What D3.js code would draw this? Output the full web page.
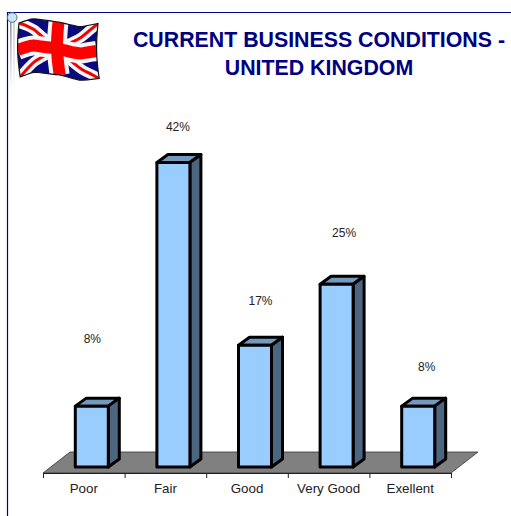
<!DOCTYPE html>
<html><head><meta charset="utf-8">
<script src="https://cdn.jsdelivr.net/npm/d3@7"></script>
<style>html,body{margin:0;padding:0;background:#fff;overflow:hidden}svg{display:block}</style>
</head><body><svg id="c" width="511" height="516"></svg>
<script>
const categories = ["Poor","Fair","Good","Very Good","Exellent"];
const values = [8.33,41.67,16.67,25,8.33];
const valueLabels = ["8%","42%","17%","25%","8%"];
const titleLines = ["CURRENT BUSINESS CONDITIONS -","UNITED KINGDOM"];

const labelLift = [67,36,44,51,39];
const labelShift = [0,4,5,7,8];
const svg = d3.select("#c");
const defs = svg.append("defs");

// frame
svg.append("path").attr("d","M7.5 516V12.5H511").attr("fill","none").attr("stroke","#000090").attr("stroke-width",1.2);

// pole
const pg = defs.append("linearGradient").attr("id","pole").attr("gradientUnits","userSpaceOnUse").attr("x1",0).attr("x2",0).attr("y1",22).attr("y2",90);
pg.append("stop").attr("offset",0).attr("stop-color","#8c949c");
pg.append("stop").attr("offset",1).attr("stop-color","#fff");
svg.append("rect").attr("x",10).attr("y",22).attr("width",1.6).attr("height",68).attr("fill","url(#pole)");
svg.append("rect").attr("x",13.4).attr("y",22).attr("width",1.2).attr("height",68).attr("fill","url(#pole)").attr("opacity",.7);
svg.append("circle").attr("cx",12.2).attr("cy",17.5).attr("r",4.8).attr("fill","#c8e8f6").attr("stroke","#55708a").attr("stroke-width",1);

// flag: warp unit square on to wavy cloth
const topEdge = d3.scaleLinear().domain([0,.17,.5,.77,1]).range([23,18.5,22,27,23.5]);
const botEdge = d3.scaleLinear().domain([0,.17,.5,.77,1]).range([77,72,75,80.5,78.5]);
const warp = (u,v)=>{
  const bulge = Math.sin(v*Math.PI)*-2;
  return [19+bulge+u*79+v*1.2, topEdge(u)*(1-v)+botEdge(u)*v];
};
const fl = d3.line().curve(d3.curveCatmullRom);
const seg = (u0,v0,u1,v1)=>fl(d3.range(0,1.0001,.1).map(t=>warp(u0+(u1-u0)*t,v0+(v1-v0)*t)));
const outline = [];
d3.range(0,1.001,.05).forEach(t=>outline.push(warp(t,0)));
d3.range(0,1.001,.1).forEach(t=>outline.push(warp(1,t)));
d3.range(1,-.001,-.05).forEach(t=>outline.push(warp(t,1)));
d3.range(1,-.001,-.1).forEach(t=>outline.push(warp(0,t)));
const outlineD = d3.line().curve(d3.curveLinearClosed)(outline);
defs.append("clipPath").attr("id","fc").append("path").attr("d",outlineD);
const f = svg.append("g").attr("clip-path","url(#fc)");
f.append("path").attr("d",outlineD).attr("fill","#0a0a80");
[[0,0,1,1],[0,1,1,0]].forEach(s=>f.append("path").attr("d",seg(...s)).attr("fill","none").attr("stroke","#f6f6f6").attr("stroke-width",10));
[[0,0,1,1],[0,1,1,0]].forEach(s=>f.append("path").attr("d",seg(...s)).attr("fill","none").attr("stroke","#f40000").attr("stroke-width",3));
[[.5,0,.5,1],[0,.5,1,.5]].forEach(s=>f.append("path").attr("d",seg(...s)).attr("fill","none").attr("stroke","#f6f6f6").attr("stroke-width",20));
[[.5,0,.5,1],[0,.5,1,.5]].forEach(s=>f.append("path").attr("d",seg(...s)).attr("fill","none").attr("stroke","#ff0000").attr("stroke-width",12));
svg.append("path").attr("d",outlineD).attr("fill","none").attr("stroke","#111").attr("stroke-width",1.2);

// title
svg.append("g").selectAll("text").data(titleLines).join("text")
  .attr("x",319).attr("y",(d,i)=>47+i*28).attr("text-anchor","middle")
  .attr("font-family","'Liberation Sans',Arial,sans-serif").attr("font-weight","bold")
  .attr("font-size",21.33).attr("fill","#000080").text(d=>d);

// scales
const left=43,right=451,base=473,barBase=467,dx=11,dy=8,barW=33;
const x = d3.scaleBand().domain(categories).range([left,right]).paddingInner(0).paddingOuter(0);
const y = d3.scaleLinear().domain([0,41.67]).range([barBase,162.5]);
const barX = c=>x(c)+x.bandwidth()/2-barW/2+8;

// floor
svg.append("path").attr("d",`M${left} ${base}L${left+27} 452H${right+27}L${right} ${base}Z`)
  .attr("fill","#808080").attr("stroke","#333").attr("stroke-width",.8);

// axis
const ag = svg.append("g").attr("transform",`translate(0,${base})`)
  .call(d3.axisBottom(x).tickSize(0).tickPadding(11));
ag.select(".domain").attr("stroke","#222").attr("stroke-width",1);
ag.selectAll("text").attr("font-family","'Liberation Sans',Arial,sans-serif").attr("font-size",13.33).attr("fill","#222");
ag.selectAll("line.edge").data(d3.range(categories.length+1)).join("line").attr("class","edge")
  .attr("x1",i=>left+i*x.step()+.5).attr("x2",i=>left+i*x.step()+.5).attr("y1",0).attr("y2",5)
  .attr("stroke","#222").attr("stroke-width",1);

// bars
const bars = svg.append("g").selectAll("g").data(categories).join("g");
const sw=3;
bars.append("path").attr("d",(c,i)=>{const X=barX(c),T=y(values[i]);return `M${X} ${T}l${dx} ${-dy}h${barW}l${-dx} ${dy}Z`;})
  .attr("fill","#7399BF").attr("stroke","#000").attr("stroke-width",sw).attr("stroke-linejoin","round");
bars.append("path").attr("d",(c,i)=>{const X=barX(c)+barW,T=y(values[i]);return `M${X} ${T}l${dx} ${-dy}V${barBase-dy}L${X} ${barBase}Z`;})
  .attr("fill","#4C6680").attr("stroke","#000").attr("stroke-width",sw).attr("stroke-linejoin","round");
bars.append("rect").attr("x",c=>barX(c)).attr("y",(c,i)=>y(values[i])).attr("width",barW)
  .attr("height",(c,i)=>barBase-y(values[i]))
  .attr("fill","#99CCFF").attr("stroke","#000").attr("stroke-width",sw).attr("stroke-linejoin","round");

// labels
svg.append("g").selectAll("text").data(valueLabels).join("text")
  .attr("x",(d,i)=>barX(categories[i])+barW/2+.5+labelShift[i]).attr("y",(d,i)=>y(values[i])-labelLift[i]+4)
  .attr("text-anchor","middle").attr("font-family","'Liberation Sans',Arial,sans-serif")
  .attr("font-size",12).attr("fill","#222").text(d=>d);
</script></body></html>
